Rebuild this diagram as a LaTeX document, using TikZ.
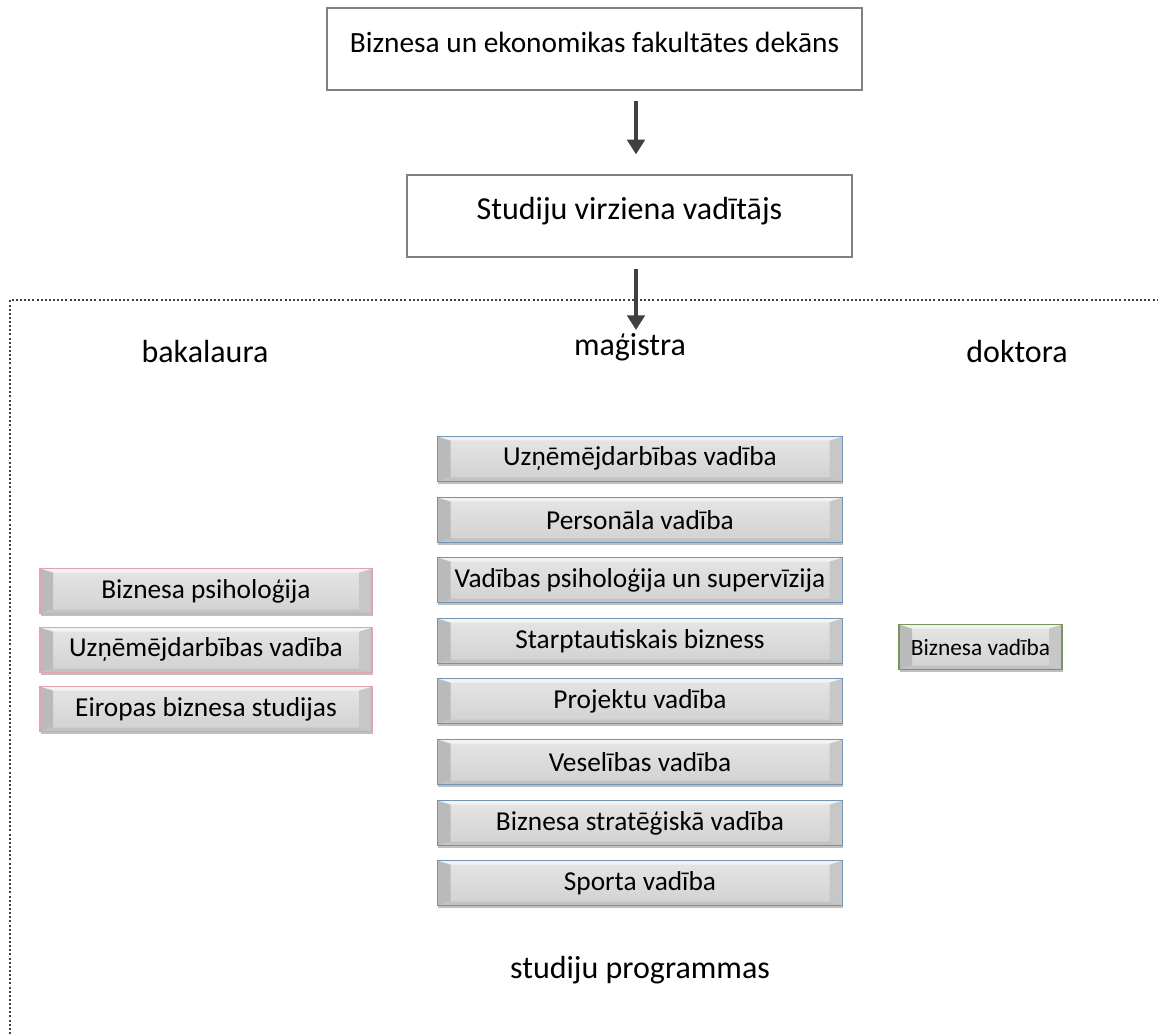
\documentclass[tikz,border=0pt]{standalone}
\usepackage{fontspec}
\setmainfont{Carlito}
\usetikzlibrary{arrows.meta,shadows}

\definecolor{bakred}{HTML}{E3A3AA}
\definecolor{magblue}{HTML}{7393B3}
\definecolor{dokgreen}{HTML}{7A955C}

\tikzset{
  topbox/.style={draw=black!50,line width=0.9pt,fill=white,inner sep=2pt},
  lvl/.style={font=\fontsize{24}{28}\selectfont},
  prog/.style={draw=#1,line width=0.9pt,minimum height=33.75pt,inner sep=0pt,
    top color=black!10,bottom color=black!18,
    font=\fontsize{20.5}{24}\selectfont,
    drop shadow={shadow xshift=0.4pt,shadow yshift=-2.2pt,opacity=0.25,fill=black},
    path picture={
      \fill[black!27] (path picture bounding box.north west) -- ++(13,4)
        -- ([shift={(13,-4)}]path picture bounding box.south west)
        -- (path picture bounding box.south west) -- cycle;
      \fill[black!22] (path picture bounding box.north east) -- ++(-13,4)
        -- ([shift={(-13,-4)}]path picture bounding box.south east)
        -- (path picture bounding box.south east) -- cycle;
      \fill[white,opacity=0.55] (path picture bounding box.north west) -- ++(13,4)
        -- ([shift={(-13,4)}]path picture bounding box.north east)
        -- (path picture bounding box.north east) -- cycle;
      \fill[black!24] (path picture bounding box.south west) -- ++(13,-4)
        -- ([shift={(-13,-4)}]path picture bounding box.south east)
        -- (path picture bounding box.south east) -- cycle;
    }},
  arr/.style={-{Triangle[length=11pt,width=13pt]},line width=2.8pt,draw=black!75}
}

\begin{document}
\begin{tikzpicture}[x=0.75pt,y=-0.75pt]
\useasboundingbox (0,0) rectangle (1158,1034);

% vadiba
\node[topbox,minimum width=401.25pt,minimum height=61.5pt,text depth=10pt,
  font=\fontsize{22}{26}\selectfont] (dekans) at (594.5,49) {Biznesa un ekonomikas fakultātes dekāns};
\node[topbox,minimum width=333.75pt,minimum height=61.5pt,text depth=11pt,
  font=\fontsize{24}{28}\selectfont] (vaditajs) at (629.5,216) {Studiju virziena vadītājs};
\coordinate (ax) at (636,330);

% studiju programmas
\draw[black!75,line width=1.5pt,dash pattern=on 1.5pt off 1.6pt] (10,1034) -- (10,300) -- (1158,300);
\draw[arr,shorten <=7.5pt,shorten >=15pt] (dekans.south -| ax) -- (vaditajs.north -| ax);
\draw[arr,shorten <=8.5pt] (vaditajs.south -| ax) -- (ax);

\node[lvl] (bak) at (205,352) {bakalaura};
\node[lvl] (mag) at (630,347) {maģistra};
\node[lvl] (dok) at (1017,352) {doktora};

\node[prog=bakred,minimum width=249pt] (b1) at (206,591) {Biznesa psiholoģija};
\node[prog=bakred,minimum width=249pt] (b2) at (206,650) {Uzņēmējdarbības vadība};
\node[prog=bakred,minimum width=249pt] (b3) at (206,709) {Eiropas biznesa studijas};

\node[prog=magblue,minimum width=303.75pt] (m1) at (640,459) {Uzņēmējdarbības vadība};
\node[prog=magblue,minimum width=303.75pt] (m2) at (640,520) {Personāla vadība};
\node[prog=magblue,minimum width=303.75pt] (m3) at (640,580) {Vadības psiholoģija un supervīzija};
\node[prog=magblue,minimum width=303.75pt] (m4) at (640,641) {Starptautiskais bizness};
\node[prog=magblue,minimum width=303.75pt] (m5) at (640,701) {Projektu vadība};
\node[prog=magblue,minimum width=303.75pt] (m6) at (640,762) {Veselības vadība};
\node[prog=magblue,minimum width=303.75pt] (m7) at (640,823) {Biznesa stratēģiskā vadība};
\node[prog=magblue,minimum width=303.75pt] (m8) at (640,883) {Sporta vadība};

\node[prog=dokgreen,minimum width=122.25pt,font=\fontsize{17.5}{21}\selectfont] (d1) at (980.5,647) {Biznesa vadība};

\node[lvl] (sp) at (640,970) {studiju programmas};
\end{tikzpicture}
\end{document}
